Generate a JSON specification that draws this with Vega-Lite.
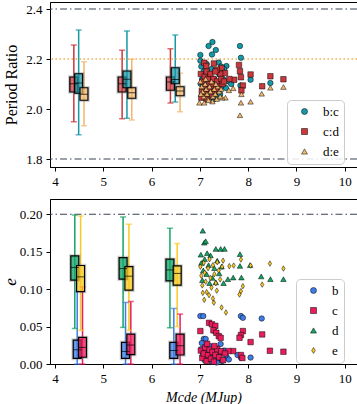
{
  "$schema": "https://vega.github.io/schema/vega-lite/v6.json",
  "padding": {"left": 0, "top": 1, "right": 0, "bottom": 0},
  "spacing": 32,
  "bounds": "flush",
  "resolve": {"scale": {"color": "independent", "shape": "independent", "fill": "independent", "stroke": "independent"},
              "legend": {"color": "independent", "shape": "independent", "fill": "independent", "stroke": "independent"}},
  "config": {
    "view": {"stroke": "black", "strokeWidth": 1},
    "axis": {
      "grid": false, "domainColor": "black", "tickColor": "black", "tickSize": 4,
      "labelFont": "Liberation Serif", "labelFontSize": 13, "labelColor": "black", "labelPadding": 4,
      "titleFont": "Liberation Serif", "titleFontWeight": "normal", "titleColor": "black"
    },
    "axisY": {"minExtent": 27, "maxExtent": 27},
    "legend": {
      "labelFont": "Liberation Serif", "labelFontSize": 13, "labelColor": "black",
      "fillColor": "rgba(255,255,255,0.85)", "strokeColor": "#cccccc", "cornerRadius": 4,
      "padding": 5, "rowPadding": 6, "labelOffset": 12, "symbolOffset": 6,
      "symbolStrokeColor": "black", "symbolStrokeWidth": 0.5, "symbolSize": 36
    }
  },
  "datasets": {
    "boxTop": [
      {"series": "c:d", "x": 4.39, "lo": 1.949, "q1": 2.068, "med": 2.101, "q3": 2.128, "hi": 2.256},
      {"series": "b:c", "x": 4.49, "lo": 1.897, "q1": 2.063, "med": 2.104, "q3": 2.141, "hi": 2.316},
      {"series": "d:e", "x": 4.6, "lo": 1.933, "q1": 2.035, "med": 2.059, "q3": 2.085, "hi": 2.189},
      {"series": "c:d", "x": 5.39, "lo": 1.961, "q1": 2.068, "med": 2.101, "q3": 2.128, "hi": 2.235},
      {"series": "b:c", "x": 5.49, "lo": 1.963, "q1": 2.085, "med": 2.119, "q3": 2.152, "hi": 2.312},
      {"series": "d:e", "x": 5.59, "lo": 1.956, "q1": 2.043, "med": 2.065, "q3": 2.085, "hi": 2.199},
      {"series": "c:d", "x": 6.39, "lo": 2.024, "q1": 2.075, "med": 2.108, "q3": 2.128, "hi": 2.241},
      {"series": "b:c", "x": 6.49, "lo": 2.028, "q1": 2.101, "med": 2.118, "q3": 2.165, "hi": 2.296},
      {"series": "d:e", "x": 6.59, "lo": 1.989, "q1": 2.053, "med": 2.072, "q3": 2.089, "hi": 2.143}
    ],
    "ptsTop": [
      {"series": "b:c", "m": 7.26, "pr": 2.268}, {"series": "b:c", "m": 7.18, "pr": 2.252},
      {"series": "b:c", "m": 7.33, "pr": 2.236}, {"series": "b:c", "m": 7.25, "pr": 2.218},
      {"series": "b:c", "m": 7.01, "pr": 2.216}, {"series": "b:c", "m": 7.83, "pr": 2.252},
      {"series": "b:c", "m": 7.85, "pr": 2.205}, {"series": "b:c", "m": 7.01, "pr": 2.193},
      {"series": "b:c", "m": 7.39, "pr": 2.186}, {"series": "b:c", "m": 7.55, "pr": 2.172},
      {"series": "b:c", "m": 8.05, "pr": 2.117}, {"series": "b:c", "m": 8.46, "pr": 2.104},
      {"series": "b:c", "m": 7.84, "pr": 2.094}, {"series": "b:c", "m": 7.29, "pr": 2.039},
      {"series": "b:c", "m": 7.03, "pr": 2.17}, {"series": "b:c", "m": 7.08, "pr": 2.15},
      {"series": "b:c", "m": 7.12, "pr": 2.14}, {"series": "b:c", "m": 7.05, "pr": 2.12},
      {"series": "b:c", "m": 7.15, "pr": 2.11}, {"series": "b:c", "m": 7.2, "pr": 2.13},
      {"series": "b:c", "m": 7.22, "pr": 2.09}, {"series": "b:c", "m": 7.3, "pr": 2.12},
      {"series": "b:c", "m": 7.35, "pr": 2.1}, {"series": "b:c", "m": 7.4, "pr": 2.14},
      {"series": "b:c", "m": 7.45, "pr": 2.09}, {"series": "b:c", "m": 7.48, "pr": 2.12},
      {"series": "b:c", "m": 7.1, "pr": 2.08}, {"series": "b:c", "m": 7.18, "pr": 2.06},
      {"series": "b:c", "m": 7.27, "pr": 2.07}, {"series": "b:c", "m": 7.33, "pr": 2.05},
      {"series": "b:c", "m": 7.38, "pr": 2.08}, {"series": "b:c", "m": 7.5, "pr": 2.16},
      {"series": "b:c", "m": 7.42, "pr": 2.06}, {"series": "b:c", "m": 7.02, "pr": 2.1},
      {"series": "b:c", "m": 7.6, "pr": 2.11}, {"series": "b:c", "m": 7.65, "pr": 2.1},
      {"series": "b:c", "m": 7.05, "pr": 2.06}, {"series": "b:c", "m": 7.14, "pr": 2.18},
      {"series": "b:c", "m": 7.24, "pr": 2.16}, {"series": "b:c", "m": 7.44, "pr": 2.17},
      {"series": "b:c", "m": 7.54, "pr": 2.084},
      {"series": "c:d", "m": 7.09, "pr": 2.185}, {"series": "c:d", "m": 7.29, "pr": 2.182},
      {"series": "c:d", "m": 7.81, "pr": 2.176}, {"series": "c:d", "m": 7.83, "pr": 2.151},
      {"series": "c:d", "m": 7.85, "pr": 2.127}, {"series": "c:d", "m": 8.05, "pr": 2.138},
      {"series": "c:d", "m": 8.46, "pr": 2.131}, {"series": "c:d", "m": 8.73, "pr": 2.119},
      {"series": "c:d", "m": 8.29, "pr": 2.091}, {"series": "c:d", "m": 7.89, "pr": 2.094},
      {"series": "c:d", "m": 7.86, "pr": 2.074}, {"series": "c:d", "m": 7.71, "pr": 2.117},
      {"series": "c:d", "m": 7.61, "pr": 2.12}, {"series": "c:d", "m": 7.45, "pr": 2.164},
      {"series": "c:d", "m": 7.52, "pr": 2.144}, {"series": "c:d", "m": 7.42, "pr": 2.141},
      {"series": "c:d", "m": 7.35, "pr": 2.157}, {"series": "c:d", "m": 7.13, "pr": 2.172},
      {"series": "c:d", "m": 7.02, "pr": 2.14}, {"series": "c:d", "m": 7.05, "pr": 2.11},
      {"series": "c:d", "m": 7.08, "pr": 2.09}, {"series": "c:d", "m": 7.1, "pr": 2.13},
      {"series": "c:d", "m": 7.14, "pr": 2.15}, {"series": "c:d", "m": 7.17, "pr": 2.12},
      {"series": "c:d", "m": 7.2, "pr": 2.1}, {"series": "c:d", "m": 7.22, "pr": 2.14},
      {"series": "c:d", "m": 7.25, "pr": 2.09}, {"series": "c:d", "m": 7.28, "pr": 2.12},
      {"series": "c:d", "m": 7.3, "pr": 2.07}, {"series": "c:d", "m": 7.32, "pr": 2.15},
      {"series": "c:d", "m": 7.36, "pr": 2.11}, {"series": "c:d", "m": 7.4, "pr": 2.09},
      {"series": "c:d", "m": 7.44, "pr": 2.12}, {"series": "c:d", "m": 7.47, "pr": 2.1},
      {"series": "c:d", "m": 7.04, "pr": 2.07}, {"series": "c:d", "m": 7.12, "pr": 2.06},
      {"series": "c:d", "m": 7.19, "pr": 2.08}, {"series": "c:d", "m": 7.26, "pr": 2.05},
      {"series": "c:d", "m": 7.34, "pr": 2.08}, {"series": "c:d", "m": 7.5, "pr": 2.11},
      {"series": "c:d", "m": 7.03, "pr": 2.045}, {"series": "c:d", "m": 7.15, "pr": 2.04},
      {"series": "d:e", "m": 7.83, "pr": 1.975}, {"series": "d:e", "m": 7.85, "pr": 2.025},
      {"series": "d:e", "m": 8.05, "pr": 2.029}, {"series": "d:e", "m": 8.28, "pr": 2.061},
      {"series": "d:e", "m": 8.46, "pr": 2.085}, {"series": "d:e", "m": 8.73, "pr": 2.088},
      {"series": "d:e", "m": 7.86, "pr": 2.059}, {"series": "d:e", "m": 7.69, "pr": 2.083},
      {"series": "d:e", "m": 7.53, "pr": 2.045}, {"series": "d:e", "m": 7.46, "pr": 2.045},
      {"series": "d:e", "m": 6.99, "pr": 2.025}, {"series": "d:e", "m": 7.09, "pr": 2.025},
      {"series": "d:e", "m": 7.01, "pr": 2.11}, {"series": "d:e", "m": 7.04, "pr": 2.09},
      {"series": "d:e", "m": 7.06, "pr": 2.07}, {"series": "d:e", "m": 7.08, "pr": 2.05},
      {"series": "d:e", "m": 7.11, "pr": 2.1}, {"series": "d:e", "m": 7.13, "pr": 2.08},
      {"series": "d:e", "m": 7.15, "pr": 2.06}, {"series": "d:e", "m": 7.17, "pr": 2.04},
      {"series": "d:e", "m": 7.2, "pr": 2.09}, {"series": "d:e", "m": 7.22, "pr": 2.07},
      {"series": "d:e", "m": 7.24, "pr": 2.11}, {"series": "d:e", "m": 7.27, "pr": 2.05},
      {"series": "d:e", "m": 7.3, "pr": 2.08}, {"series": "d:e", "m": 7.32, "pr": 2.06},
      {"series": "d:e", "m": 7.35, "pr": 2.04}, {"series": "d:e", "m": 7.37, "pr": 2.09},
      {"series": "d:e", "m": 7.4, "pr": 2.07}, {"series": "d:e", "m": 7.42, "pr": 2.05},
      {"series": "d:e", "m": 7.02, "pr": 2.06}, {"series": "d:e", "m": 7.12, "pr": 2.12},
      {"series": "d:e", "m": 7.26, "pr": 2.03}, {"series": "d:e", "m": 7.33, "pr": 2.1},
      {"series": "d:e", "m": 7.18, "pr": 2.035}, {"series": "d:e", "m": 7.44, "pr": 2.08},
      {"series": "d:e", "m": 7.6, "pr": 2.075}
    ],
    "boxBot": [
      {"planet": "d", "x": 4.41, "lo": 0.0475, "q1": 0.112, "med": 0.129, "q3": 0.1444, "hi": 0.199},
      {"planet": "e", "x": 4.53, "lo": 0.045, "q1": 0.0968, "med": 0.1164, "q3": 0.1316, "hi": 0.1977},
      {"planet": "b", "x": 4.46, "lo": 0.0, "q1": 0.0075, "med": 0.019, "q3": 0.032, "hi": 0.097},
      {"planet": "c", "x": 4.57, "lo": 0.0, "q1": 0.009, "med": 0.0222, "q3": 0.0355, "hi": 0.103},
      {"planet": "d", "x": 5.41, "lo": 0.0489, "q1": 0.1133, "med": 0.1275, "q3": 0.1422, "hi": 0.1964},
      {"planet": "e", "x": 5.53, "lo": 0.045, "q1": 0.0986, "med": 0.1173, "q3": 0.1301, "hi": 0.1867},
      {"planet": "b", "x": 5.46, "lo": 0.0, "q1": 0.0075, "med": 0.0168, "q3": 0.0289, "hi": 0.0822},
      {"planet": "c", "x": 5.57, "lo": 0.0, "q1": 0.0124, "med": 0.0253, "q3": 0.04, "hi": 0.0835},
      {"planet": "d", "x": 6.38, "lo": 0.0484, "q1": 0.111, "med": 0.1257, "q3": 0.14, "hi": 0.1813},
      {"planet": "e", "x": 6.53, "lo": 0.05, "q1": 0.1053, "med": 0.121, "q3": 0.131, "hi": 0.1609},
      {"planet": "b", "x": 6.46, "lo": 0.0, "q1": 0.0075, "med": 0.018, "q3": 0.029, "hi": 0.0742},
      {"planet": "c", "x": 6.59, "lo": 0.0, "q1": 0.012, "med": 0.0244, "q3": 0.04, "hi": 0.0667}
    ],
    "ptsBot": [
      {"planet": "b", "m": 7.01, "e": 0.064}, {"planet": "b", "m": 7.07, "e": 0.064},
      {"planet": "b", "m": 7.85, "e": 0.064}, {"planet": "b", "m": 7.89, "e": 0.0617},
      {"planet": "b", "m": 8.28, "e": 0.0608}, {"planet": "b", "m": 7.29, "e": 0.0444},
      {"planet": "b", "m": 7.08, "e": 0.0335}, {"planet": "b", "m": 7.12, "e": 0.0335},
      {"planet": "b", "m": 7.43, "e": 0.0267}, {"planet": "b", "m": 8.05, "e": 0.0086},
      {"planet": "b", "m": 7.85, "e": 0.0084}, {"planet": "b", "m": 7.03, "e": 0.02},
      {"planet": "b", "m": 7.06, "e": 0.012}, {"planet": "b", "m": 7.1, "e": 0.005},
      {"planet": "b", "m": 7.14, "e": 0.018}, {"planet": "b", "m": 7.18, "e": 0.008},
      {"planet": "b", "m": 7.22, "e": 0.015}, {"planet": "b", "m": 7.25, "e": 0.003},
      {"planet": "b", "m": 7.3, "e": 0.011}, {"planet": "b", "m": 7.34, "e": 0.021},
      {"planet": "b", "m": 7.38, "e": 0.007}, {"planet": "b", "m": 7.42, "e": 0.014},
      {"planet": "b", "m": 7.46, "e": 0.004}, {"planet": "b", "m": 7.5, "e": 0.018},
      {"planet": "b", "m": 7.55, "e": 0.01}, {"planet": "b", "m": 7.6, "e": 0.006},
      {"planet": "b", "m": 7.2, "e": 0.024}, {"planet": "b", "m": 7.35, "e": 0.002},
      {"planet": "b", "m": 7.78, "e": 0.012}, {"planet": "b", "m": 7.04, "e": 0.028},
      {"planet": "c", "m": 7.01, "e": 0.044}, {"planet": "c", "m": 7.19, "e": 0.055},
      {"planet": "c", "m": 7.25, "e": 0.053}, {"planet": "c", "m": 7.32, "e": 0.051},
      {"planet": "c", "m": 7.28, "e": 0.045}, {"planet": "c", "m": 7.34, "e": 0.0417},
      {"planet": "c", "m": 7.39, "e": 0.0373}, {"planet": "c", "m": 7.43, "e": 0.035},
      {"planet": "c", "m": 7.89, "e": 0.044}, {"planet": "c", "m": 7.85, "e": 0.0387},
      {"planet": "c", "m": 7.82, "e": 0.035}, {"planet": "c", "m": 8.29, "e": 0.0395},
      {"planet": "c", "m": 8.05, "e": 0.0293}, {"planet": "c", "m": 8.45, "e": 0.0177},
      {"planet": "c", "m": 8.73, "e": 0.0164}, {"planet": "c", "m": 7.69, "e": 0.0173},
      {"planet": "c", "m": 7.59, "e": 0.0173}, {"planet": "c", "m": 7.02, "e": 0.018},
      {"planet": "c", "m": 7.05, "e": 0.008}, {"planet": "c", "m": 7.08, "e": 0.014},
      {"planet": "c", "m": 7.11, "e": 0.022}, {"planet": "c", "m": 7.14, "e": 0.004},
      {"planet": "c", "m": 7.17, "e": 0.012}, {"planet": "c", "m": 7.2, "e": 0.019},
      {"planet": "c", "m": 7.23, "e": 0.007}, {"planet": "c", "m": 7.26, "e": 0.016},
      {"planet": "c", "m": 7.29, "e": 0.003}, {"planet": "c", "m": 7.32, "e": 0.012},
      {"planet": "c", "m": 7.36, "e": 0.02}, {"planet": "c", "m": 7.4, "e": 0.009},
      {"planet": "c", "m": 7.44, "e": 0.017}, {"planet": "c", "m": 7.48, "e": 0.005},
      {"planet": "c", "m": 7.52, "e": 0.014}, {"planet": "c", "m": 7.85, "e": 0.012},
      {"planet": "c", "m": 7.88, "e": 0.008}, {"planet": "c", "m": 7.15, "e": 0.027},
      {"planet": "c", "m": 7.3, "e": 0.024},
      {"planet": "d", "m": 7.06, "e": 0.178}, {"planet": "d", "m": 7.09, "e": 0.162},
      {"planet": "d", "m": 7.12, "e": 0.164}, {"planet": "d", "m": 7.33, "e": 0.1537},
      {"planet": "d", "m": 7.43, "e": 0.1537}, {"planet": "d", "m": 7.51, "e": 0.1537},
      {"planet": "d", "m": 7.02, "e": 0.146}, {"planet": "d", "m": 7.83, "e": 0.1467},
      {"planet": "d", "m": 7.83, "e": 0.131}, {"planet": "d", "m": 8.04, "e": 0.132},
      {"planet": "d", "m": 8.27, "e": 0.117}, {"planet": "d", "m": 8.46, "e": 0.1133},
      {"planet": "d", "m": 8.73, "e": 0.1133}, {"planet": "d", "m": 7.86, "e": 0.1155},
      {"planet": "d", "m": 7.69, "e": 0.1155}, {"planet": "d", "m": 7.58, "e": 0.1133},
      {"planet": "d", "m": 7.33, "e": 0.109}, {"planet": "d", "m": 7.49, "e": 0.108},
      {"planet": "d", "m": 7.03, "e": 0.135}, {"planet": "d", "m": 7.07, "e": 0.125},
      {"planet": "d", "m": 7.1, "e": 0.14}, {"planet": "d", "m": 7.14, "e": 0.12},
      {"planet": "d", "m": 7.18, "e": 0.132}, {"planet": "d", "m": 7.22, "e": 0.145},
      {"planet": "d", "m": 7.26, "e": 0.115}, {"planet": "d", "m": 7.3, "e": 0.128},
      {"planet": "d", "m": 7.36, "e": 0.138}, {"planet": "d", "m": 7.4, "e": 0.121},
      {"planet": "d", "m": 7.45, "e": 0.13}, {"planet": "d", "m": 7.2, "e": 0.108},
      {"planet": "d", "m": 7.05, "e": 0.112}, {"planet": "d", "m": 7.15, "e": 0.148},
      {"planet": "e", "m": 7.85, "e": 0.1395}, {"planet": "e", "m": 8.05, "e": 0.1315},
      {"planet": "e", "m": 8.45, "e": 0.1341}, {"planet": "e", "m": 8.73, "e": 0.1275},
      {"planet": "e", "m": 8.29, "e": 0.1061}, {"planet": "e", "m": 7.89, "e": 0.104},
      {"planet": "e", "m": 7.85, "e": 0.0973}, {"planet": "e", "m": 7.82, "e": 0.0928},
      {"planet": "e", "m": 7.45, "e": 0.0755}, {"planet": "e", "m": 7.54, "e": 0.0688},
      {"planet": "e", "m": 7.27, "e": 0.0875}, {"planet": "e", "m": 7.29, "e": 0.082},
      {"planet": "e", "m": 7.09, "e": 0.0857}, {"planet": "e", "m": 7.7, "e": 0.1315},
      {"planet": "e", "m": 7.61, "e": 0.1307}, {"planet": "e", "m": 7.01, "e": 0.13},
      {"planet": "e", "m": 7.03, "e": 0.118}, {"planet": "e", "m": 7.05, "e": 0.105},
      {"planet": "e", "m": 7.08, "e": 0.135}, {"planet": "e", "m": 7.1, "e": 0.122},
      {"planet": "e", "m": 7.12, "e": 0.11}, {"planet": "e", "m": 7.14, "e": 0.096},
      {"planet": "e", "m": 7.17, "e": 0.128}, {"planet": "e", "m": 7.2, "e": 0.14},
      {"planet": "e", "m": 7.22, "e": 0.115}, {"planet": "e", "m": 7.24, "e": 0.102},
      {"planet": "e", "m": 7.27, "e": 0.132}, {"planet": "e", "m": 7.3, "e": 0.12},
      {"planet": "e", "m": 7.33, "e": 0.108}, {"planet": "e", "m": 7.36, "e": 0.136},
      {"planet": "e", "m": 7.39, "e": 0.125}, {"planet": "e", "m": 7.42, "e": 0.113},
      {"planet": "e", "m": 7.46, "e": 0.13}, {"planet": "e", "m": 7.48, "e": 0.138},
      {"planet": "e", "m": 7.19, "e": 0.092}, {"planet": "e", "m": 7.06, "e": 0.095},
      {"planet": "e", "m": 7.35, "e": 0.098}
    ],
    "refTop": [
      {"level": 2.4, "kind": "bound"}, {"level": 1.8, "kind": "bound"}, {"level": 2.2, "kind": "res"}
    ],
    "refBot": [
      {"level": 0.2, "kind": "bound"}
    ]
  },
  "vconcat": [
    {
      "width": 307,
      "height": 165,
      "layer": [
        {"data": {"name": "boxTop"},
         "mark": {"type": "rule", "strokeWidth": 1.5},
         "encoding": {
           "x": {"field": "x", "type": "quantitative", "scale": {"domain": [4, 10.15], "nice": false, "zero": false},
                 "axis": {"values": [4, 5, 6, 7, 8, 9, 10], "format": "d", "title": null}},
           "y": {"field": "lo", "type": "quantitative", "scale": {"domain": [1.768, 2.428], "nice": false, "zero": false},
                 "axis": {"values": [1.8, 2.0, 2.2, 2.4], "format": ".1f", "title": "Period Ratio", "titleFontSize": 16, "titlePadding": 4}},
           "y2": {"field": "hi"},
           "stroke": {"field": "series", "type": "nominal", "legend": null,
                      "scale": {"domain": ["c:d", "b:c", "d:e"], "range": ["#c9383d", "#1599a8", "#f2b66e"]}}
         }},
        {"data": {"name": "refTop"}, "transform": [{"filter": "datum.kind === 'bound'"}],
         "mark": {"type": "rule", "color": "#3a4257", "strokeWidth": 1.2, "strokeDash": [7, 3, 1.5, 3]},
         "encoding": {"y": {"field": "level", "type": "quantitative"}}},
        {"data": {"name": "refTop"}, "transform": [{"filter": "datum.kind === 'res'"}],
         "mark": {"type": "rule", "color": "#f2a94e", "strokeWidth": 1.3, "strokeDash": [1.5, 2.5]},
         "encoding": {"y": {"field": "level", "type": "quantitative"}}},
        {"data": {"name": "boxTop"},
         "mark": {"type": "tick", "orient": "horizontal", "size": 6, "thickness": 1.5},
         "encoding": {"x": {"field": "x", "type": "quantitative"}, "y": {"field": "lo", "type": "quantitative"},
                      "fill": {"field": "series", "type": "nominal", "legend": null,
                               "scale": {"domain": ["c:d", "b:c", "d:e"], "range": ["#c9383d", "#1599a8", "#f2b66e"]}}}},
        {"data": {"name": "boxTop"},
         "mark": {"type": "tick", "orient": "horizontal", "size": 6, "thickness": 1.5},
         "encoding": {"x": {"field": "x", "type": "quantitative"}, "y": {"field": "hi", "type": "quantitative"},
                      "fill": {"field": "series", "type": "nominal", "legend": null}}},
        {"data": {"name": "boxTop"},
         "mark": {"type": "bar", "width": 8, "fill": "white", "fillOpacity": 0, "stroke": "#777777", "strokeOpacity": 0.35, "strokeWidth": 3.5},
         "encoding": {"x": {"field": "x", "type": "quantitative"}, "y": {"field": "q1", "type": "quantitative"},
                      "y2": {"field": "q3"}}},
        {"data": {"name": "boxTop"},
         "mark": {"type": "bar", "width": 8, "fillOpacity": 0.7, "stroke": "black", "strokeWidth": 1.2},
         "encoding": {"x": {"field": "x", "type": "quantitative"}, "y": {"field": "q1", "type": "quantitative"},
                      "y2": {"field": "q3"},
                      "fill": {"field": "series", "type": "nominal", "legend": null}}},
        {"data": {"name": "boxTop"},
         "mark": {"type": "tick", "orient": "horizontal", "size": 8, "thickness": 1, "color": "black"},
         "encoding": {"x": {"field": "x", "type": "quantitative"}, "y": {"field": "med", "type": "quantitative"}}},
        {"data": {"name": "ptsTop"},
         "mark": {"type": "point", "filled": true, "opacity": 1, "stroke": "black", "strokeWidth": 0.5, "size": 30},
         "encoding": {
           "x": {"field": "m", "type": "quantitative"},
           "y": {"field": "pr", "type": "quantitative"},
           "color": {"field": "series", "type": "nominal",
                     "scale": {"domain": ["b:c", "c:d", "d:e"], "range": ["#1599a8", "#c9383d", "#f2b66e"]},
                     "legend": {"title": null, "orient": "none", "legendX": 237, "legendY": 98}},
           "shape": {"field": "series", "type": "nominal",
                     "scale": {"domain": ["b:c", "c:d", "d:e"], "range": ["circle", "square", "triangle-up"]}}
         }}
      ]
    },
    {
      "width": 307,
      "height": 165,
      "layer": [
        {"data": {"name": "boxBot"},
         "mark": {"type": "rule", "strokeWidth": 1.5},
         "encoding": {
           "x": {"field": "x", "type": "quantitative", "scale": {"domain": [4, 10.15], "nice": false, "zero": false},
                 "axis": {"values": [4, 5, 6, 7, 8, 9, 10], "format": "d", "title": "Mcde (MJup)",
                          "titleFontSize": 14, "titleFontStyle": "italic", "titlePadding": 5}},
           "y": {"field": "lo", "type": "quantitative", "scale": {"domain": [0, 0.2204], "nice": false},
                 "axis": {"values": [0, 0.05, 0.1, 0.15, 0.2], "format": ".2f", "title": "e", "titleFontSize": 17,
                          "titleFontStyle": "italic", "titlePadding": 4}},
           "y2": {"field": "hi"},
           "stroke": {"field": "planet", "type": "nominal", "legend": null,
                      "scale": {"domain": ["d", "e", "b", "c"], "range": ["#12a566", "#f9c922", "#3f7de6", "#e91d5c"]}}
         }},
        {"data": {"name": "refBot"},
         "mark": {"type": "rule", "color": "#3a4257", "strokeWidth": 1.2, "strokeDash": [7, 3, 1.5, 3]},
         "encoding": {"y": {"field": "level", "type": "quantitative"}}},
        {"data": {"name": "boxBot"},
         "mark": {"type": "tick", "orient": "horizontal", "size": 6, "thickness": 1.5},
         "encoding": {"x": {"field": "x", "type": "quantitative"}, "y": {"field": "lo", "type": "quantitative"},
                      "fill": {"field": "planet", "type": "nominal", "legend": null,
                               "scale": {"domain": ["d", "e", "b", "c"], "range": ["#12a566", "#f9c922", "#3f7de6", "#e91d5c"]}}}},
        {"data": {"name": "boxBot"},
         "mark": {"type": "tick", "orient": "horizontal", "size": 6, "thickness": 1.5},
         "encoding": {"x": {"field": "x", "type": "quantitative"}, "y": {"field": "hi", "type": "quantitative"},
                      "fill": {"field": "planet", "type": "nominal", "legend": null}}},
        {"data": {"name": "boxBot"},
         "mark": {"type": "bar", "width": 8, "fill": "white", "fillOpacity": 0, "stroke": "#777777", "strokeOpacity": 0.35, "strokeWidth": 3.5},
         "encoding": {"x": {"field": "x", "type": "quantitative"}, "y": {"field": "q1", "type": "quantitative"},
                      "y2": {"field": "q3"}}},
        {"data": {"name": "boxBot"},
         "mark": {"type": "bar", "width": 8, "fillOpacity": 0.75, "stroke": "black", "strokeWidth": 1.2},
         "encoding": {"x": {"field": "x", "type": "quantitative"}, "y": {"field": "q1", "type": "quantitative"},
                      "y2": {"field": "q3"},
                      "fill": {"field": "planet", "type": "nominal", "legend": null}}},
        {"data": {"name": "boxBot"},
         "mark": {"type": "tick", "orient": "horizontal", "size": 8, "thickness": 1, "color": "black"},
         "encoding": {"x": {"field": "x", "type": "quantitative"}, "y": {"field": "med", "type": "quantitative"}}},
        {"data": {"name": "ptsBot"},
         "mark": {"type": "point", "filled": true, "opacity": 1, "stroke": "black", "strokeWidth": 0.5, "size": 30},
         "encoding": {
           "x": {"field": "m", "type": "quantitative"},
           "y": {"field": "e", "type": "quantitative"},
           "color": {"field": "planet", "type": "nominal",
                     "scale": {"domain": ["b", "c", "d", "e"], "range": ["#3f7de6", "#e91d5c", "#12a566", "#f9c922"]},
                     "legend": {"title": null, "orient": "none", "legendX": 246, "legendY": 80}},
           "shape": {"field": "planet", "type": "nominal",
                     "scale": {"domain": ["b", "c", "d", "e"],
                               "range": ["circle", "square", "triangle-up", "M0,-1L0.6,0L0,1L-0.6,0Z"]}}
         }}
      ]
    }
  ]
}
